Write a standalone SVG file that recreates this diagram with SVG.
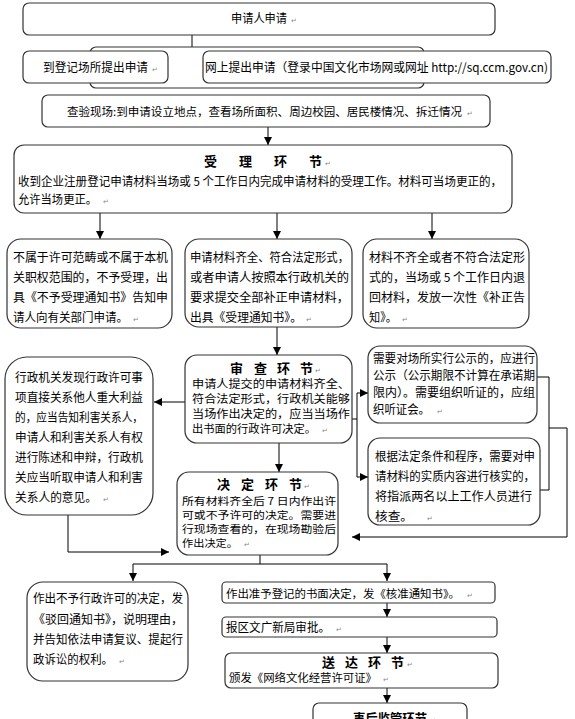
<svg xmlns="http://www.w3.org/2000/svg" width="575" height="719" viewBox="0 0 575 719">
<style>
.b{fill:#fff;stroke:#333;stroke-width:1.2}
.t{font-family:"Noto Sans CJK SC","Noto Sans",sans-serif;font-size:12px;fill:#000}
.s{font-size:11px}
.xs{font-size:10.5px}
.h{font-weight:bold;font-size:13px}
.pm{font-family:"DejaVu Sans",sans-serif;font-size:7px;fill:#888}
.c{stroke:#000;stroke-width:1;fill:none}
.a{marker-end:url(#ah)}
</style>
<defs>
<marker id="ah" markerUnits="userSpaceOnUse" markerWidth="8" markerHeight="8" refX="8" refY="4" orient="auto">
<path d="M0,0 L8,4 L0,8 z" fill="#000"/>
</marker>
</defs>
<rect width="575" height="719" fill="#fff"/>

<g id="connectors">
<path class="c a" d="M192 35 V62"/>
<path class="c a" d="M268 127 V145"/>
<path class="c a" d="M100 213 V239"/>
<path class="c a" d="M277 213 V239"/>
<path class="c a" d="M432 213 V239"/>
<path class="c a" d="M277 327 V355"/>
<path class="c a" d="M279 443 V472"/>
<path class="c a" d="M185 402 H154"/>
<path class="c a" d="M68 515 V552 H169"/>
<path class="c" d="M352 419 H357 M357 393 V477"/>
<path class="c a" d="M357 393 H368"/>
<path class="c a" d="M357 477 H368"/>
<path class="c" d="M537 377 H549 V490 H540"/>
<path class="c a" d="M549 428 H567 V537 H352"/>
<path class="c" d="M260 555 V564"/>
<path class="c a" d="M260 564 H133 V581"/>
<path class="c a" d="M260 564 H387 V581"/>
<path class="c a" d="M387 603 V617"/>
<path class="c a" d="M387 637 V653"/>
<path class="c a" d="M387 688 V703"/>
</g>

<g id="n-apply">
<rect class="b" x="23" y="3" width="472" height="32" rx="6"/>
<text class="t" x="231" y="23" textLength="56" lengthAdjust="spacingAndGlyphs">申请人申请</text>
<text class="pm" x="291" y="23">↵</text>
</g>

<g id="n-back">
<rect class="b" x="90" y="47" width="334" height="41" rx="6"/>
</g>

<g id="n-site">
<rect class="b" x="23" y="51" width="145" height="32" rx="6"/>
<text class="t" x="43" y="71.5" textLength="105" lengthAdjust="spacingAndGlyphs">到登记场所提出申请</text>
<text class="pm" x="152" y="71.5">↵</text>
</g>

<g id="n-online">
<rect class="b" x="203" y="51" width="348" height="32" rx="6"/>
<text class="t" x="205" y="71.5" textLength="343" lengthAdjust="spacingAndGlyphs">网上提出申请（登录中国文化市场网或网址 http://sq.ccm.gov.cn)</text>
</g>

<g id="n-inspect">
<rect class="b" x="42" y="95" width="448" height="32" rx="6"/>
<text class="t" x="67" y="116" style="font-size:11.3px" textLength="395" lengthAdjust="spacingAndGlyphs">查验现场:到申请设立地点，查看场所面积、周边校园、居民楼情况、拆迁情况</text>
<text class="pm" x="467" y="116">↵</text>
</g>

<g id="n-accept">
<rect class="b" x="14" y="145" width="498" height="68" rx="10"/>
<text class="t h" x="204 239 274 309" y="165.5">受理环节</text>
<text class="pm" x="325" y="165.5">↵</text>
<text class="t" x="18" y="185.5" textLength="484" lengthAdjust="spacingAndGlyphs">收到企业注册登记申请材料当场或 5 个工作日内完成申请材料的受理工作。材料可当场更正的，</text>
<text class="t" x="18" y="203.5" textLength="79" lengthAdjust="spacingAndGlyphs">允许当场更正。</text>
<text class="pm" x="103" y="203.5">↵</text>
</g>

<g id="n-reject">
<rect class="b" x="7" y="239" width="165" height="89" rx="14"/>
<text class="t" x="13" y="261.5" textLength="155" lengthAdjust="spacingAndGlyphs">不属于许可范畴或不属于本机</text>
<text class="t" x="13" y="281.5" textLength="155" lengthAdjust="spacingAndGlyphs">关职权范围的，不予受理，出</text>
<text class="t" x="13" y="301.5" textLength="155" lengthAdjust="spacingAndGlyphs">具《不予受理通知书》告知申</text>
<text class="t" x="13" y="321.5" textLength="115" lengthAdjust="spacingAndGlyphs">请人向有关部门申请。</text>
<text class="pm" x="133" y="321.5">↵</text>
</g>

<g id="n-complete">
<rect class="b" x="185" y="239" width="167" height="88" rx="14"/>
<text class="t" x="190" y="261.5" textLength="159" lengthAdjust="spacingAndGlyphs">申请材料齐全、符合法定形式，</text>
<text class="t" x="190" y="281.5" textLength="159" lengthAdjust="spacingAndGlyphs">或者申请人按照本行政机关的</text>
<text class="t" x="190" y="301.5" textLength="159" lengthAdjust="spacingAndGlyphs">要求提交全部补正申请材料，</text>
<text class="t" x="190" y="321.5" textLength="112" lengthAdjust="spacingAndGlyphs">出具《受理通知书》。</text>
<text class="pm" x="306" y="321.5">↵</text>
</g>

<g id="n-incomplete">
<rect class="b" x="363" y="239" width="166" height="89" rx="14"/>
<text class="t" x="369" y="261.5" textLength="156" lengthAdjust="spacingAndGlyphs">材料不齐全或者不符合法定形</text>
<text class="t" x="369" y="281.5" textLength="156" lengthAdjust="spacingAndGlyphs">式的，当场或 5 个工作日内退</text>
<text class="t" x="369" y="301.5" textLength="156" lengthAdjust="spacingAndGlyphs">回材料，发放一次性《补正告</text>
<text class="t" x="369" y="321.5" textLength="28" lengthAdjust="spacingAndGlyphs">知》。</text>
<text class="pm" x="402" y="321.5">↵</text>
</g>

<g id="n-notify">
<rect class="b" x="5" y="357" width="148" height="158" rx="22"/>
<text class="t" x="15" y="381.5" textLength="128" lengthAdjust="spacingAndGlyphs">行政机关发现行政许可事</text>
<text class="t" x="15" y="401.5" textLength="128" lengthAdjust="spacingAndGlyphs">项直接关系他人重大利益</text>
<text class="t" x="15" y="421.5" textLength="128" lengthAdjust="spacingAndGlyphs">的，应当告知利害关系人，</text>
<text class="t" x="15" y="441.5" textLength="128" lengthAdjust="spacingAndGlyphs">申请人和利害关系人有权</text>
<text class="t" x="15" y="461.5" textLength="128" lengthAdjust="spacingAndGlyphs">进行陈述和申辩，行政机</text>
<text class="t" x="15" y="481.5" textLength="128" lengthAdjust="spacingAndGlyphs">关应当听取申请人和利害</text>
<text class="t" x="15" y="501.5" textLength="82" lengthAdjust="spacingAndGlyphs">关系人的意见。</text>
<text class="pm" x="103" y="501.5">↵</text>
</g>

<g id="n-review">
<rect class="b" x="185" y="355" width="167" height="88" rx="12"/>
<text class="t h" x="230 254 277 300" y="372.5">审查环节</text>
<text class="pm" x="315" y="372.5">↵</text>
<text class="t s" x="192" y="388" textLength="158" lengthAdjust="spacingAndGlyphs">申请人提交的申请材料齐全、</text>
<text class="t s" x="192" y="403" textLength="158" lengthAdjust="spacingAndGlyphs">符合法定形式，行政机关能够</text>
<text class="t s" x="192" y="418" textLength="158" lengthAdjust="spacingAndGlyphs">当场作出决定的，应当当场作</text>
<text class="t s" x="192" y="433" textLength="124" lengthAdjust="spacingAndGlyphs">出书面的行政许可决定。</text>
<text class="pm" x="322" y="433">↵</text>
</g>

<g id="n-public">
<rect class="b" x="368" y="346" width="169" height="77" rx="12"/>
<text class="t" x="373" y="363" textLength="162" lengthAdjust="spacingAndGlyphs">需要对场所实行公示的，应进行</text>
<text class="t" x="373" y="380" textLength="162" lengthAdjust="spacingAndGlyphs">公示（公示期限不计算在承诺期</text>
<text class="t" x="373" y="397" textLength="162" lengthAdjust="spacingAndGlyphs">限内）。需要组织听证的，应组</text>
<text class="t" x="373" y="414" textLength="57" lengthAdjust="spacingAndGlyphs">织听证会。</text>
<text class="pm" x="437" y="414">↵</text>
</g>

<g id="n-verify">
<rect class="b" x="368" y="438" width="172" height="87" rx="12"/>
<text class="t" x="375" y="461" textLength="160" lengthAdjust="spacingAndGlyphs">根据法定条件和程序，需要对申</text>
<text class="t" x="375" y="481" textLength="160" lengthAdjust="spacingAndGlyphs">请材料的实质内容进行核实的，</text>
<text class="t" x="375" y="501" textLength="157" lengthAdjust="spacingAndGlyphs">将指派两名以上工作人员进行</text>
<text class="t" x="375" y="521" textLength="38" lengthAdjust="spacingAndGlyphs">核查。</text>
<text class="pm" x="427" y="521">↵</text>
</g>

<g id="n-decide">
<rect class="b" x="177" y="472" width="161" height="83" rx="12"/>
<text class="t h" x="217 241 265 289" y="488.5">决定环节</text>
<text class="pm" x="304" y="488.5">↵</text>
<text class="t xs" x="182" y="505" textLength="154" lengthAdjust="spacingAndGlyphs">所有材料齐全后 7 日内作出许</text>
<text class="t xs" x="182" y="519" textLength="154" lengthAdjust="spacingAndGlyphs">可或不予许可的决定。需要进</text>
<text class="t xs" x="182" y="533" textLength="154" lengthAdjust="spacingAndGlyphs">行现场查看的，在现场勘验后</text>
<text class="t xs" x="182" y="547" textLength="56" lengthAdjust="spacingAndGlyphs">作出决定。</text>
<text class="pm" x="244" y="547">↵</text>
</g>

<g id="n-deny">
<rect class="b" x="27" y="582" width="161" height="99" rx="16"/>
<text class="t" x="33" y="603" textLength="150" lengthAdjust="spacingAndGlyphs">作出不予行政许可的决定，发</text>
<text class="t" x="33" y="623.5" textLength="150" lengthAdjust="spacingAndGlyphs">《驳回通知书》，说明理由，</text>
<text class="t" x="33" y="644" textLength="150" lengthAdjust="spacingAndGlyphs">并告知依法申请复议、提起行</text>
<text class="t" x="33" y="664" textLength="80" lengthAdjust="spacingAndGlyphs">政诉讼的权利。</text>
<text class="pm" x="119" y="664">↵</text>
</g>

<g id="n-approve">
<rect class="b" x="222" y="582" width="273" height="21" rx="4"/>
<text class="t" x="226" y="597.5" style="font-size:11px" textLength="234" lengthAdjust="spacingAndGlyphs">作出准予登记的书面决定，发《核准通知书》。</text>
<text class="pm" x="467" y="597.5">↵</text>
</g>

<g id="n-bureau">
<rect class="b" x="222" y="617" width="275" height="20" rx="4"/>
<text class="t" x="226" y="631.5" textLength="104" lengthAdjust="spacingAndGlyphs">报区文广新局审批。</text>
<text class="pm" x="336" y="631.5">↵</text>
</g>

<g id="n-deliver">
<rect class="b" x="225" y="653" width="273" height="35" rx="6"/>
<text class="t h" x="322 345 368 391" y="667">送达环节</text>
<text class="pm" x="407" y="667">↵</text>
<text class="t" x="229" y="681.5" style="font-size:11.3px" textLength="148" lengthAdjust="spacingAndGlyphs">颁发《网络文化经营许可证》</text>
<text class="pm" x="383" y="681.5">↵</text>
</g>

<g id="n-supervise">
<rect class="b" x="313" y="703" width="154" height="30" rx="6"/>
<text class="t h" x="353" y="723" textLength="74" lengthAdjust="spacingAndGlyphs">事后监管环节</text>
<text class="pm" x="430" y="723">↵</text>
</g>
</svg>
